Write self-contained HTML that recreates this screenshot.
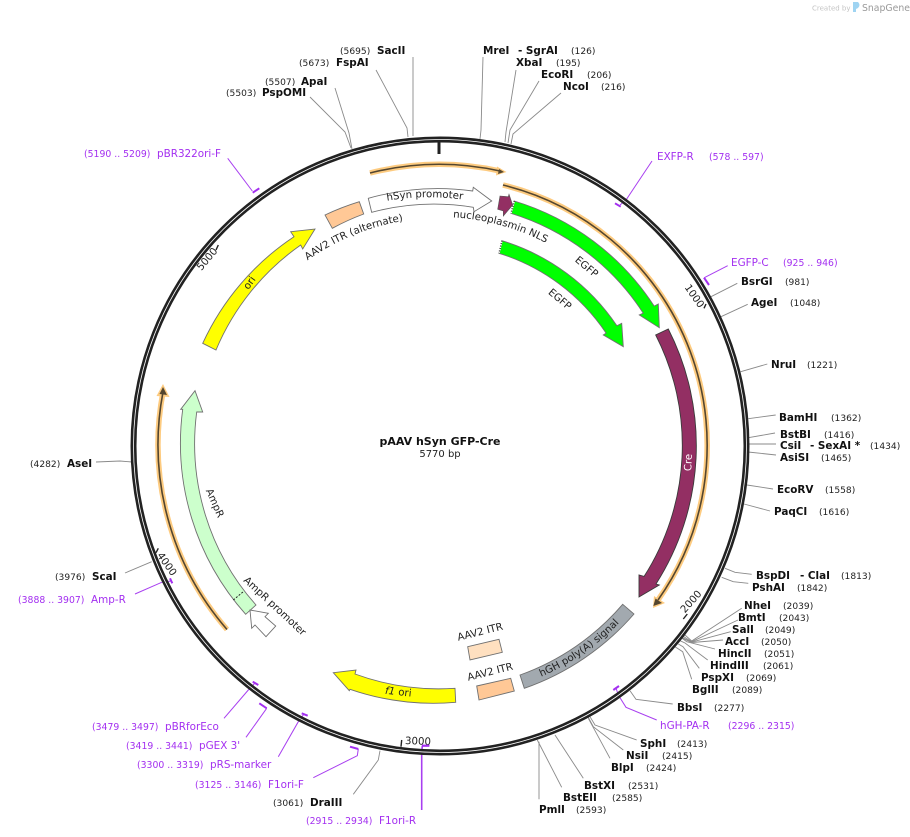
<!DOCTYPE html>
<html><head><meta charset="utf-8"><style>
html,body{margin:0;padding:0;background:#fff;width:910px;height:837px;overflow:hidden}
svg{display:block;font-family:"DejaVu Sans","Liberation Sans",sans-serif}
.b{font-size:10.4px;font-weight:bold;fill:#111}
.n{font-size:9.1px;fill:#222}
.p{font-size:10.4px;fill:#a32ff0}
.q{font-size:9.3px;fill:#a32ff0}
.t{font-size:10.2px;fill:#222}
.l{fill:none;stroke:#8a8a8a;stroke-width:.9}
.v{fill:none;stroke:#a83ff0;stroke-width:1}
.k{fill:none;stroke:#a32ff0;stroke-width:2}
.h{fill:none;stroke:#fdcb80;stroke-width:5.5}
.d{fill:none;stroke:#54462f;stroke-width:1.6}
.f{stroke:#707070;stroke-width:.9}
</style></head><body>
<svg width="910" height="837" viewBox="0 0 910 837" xmlns="http://www.w3.org/2000/svg">
<defs>
<path id="pn" d="M401.8,220.2 A229 229 0 0 1 588.4,271.6"/>
<path id="pi" d="M265.3,299.4 A228 228 0 0 1 460.7,218.9"/>
<path id="pg" d="M462,697 A252 252 0 0 0 666.5,556.4"/>
<path id="ph" d="M360,207 A246 246 0 0 1 490,205"/>
</defs>

<!-- logo -->
<text x="812" y="10.5" font-size="7" fill="#c4c4c4">Created by</text>
<path d="M853,2 h5 q3,3 0,6 l-2,1 v3 h-3 z" fill="#9fd4f2"/>
<text x="862" y="11" font-size="9.3" fill="#9a9a9a">SnapGene</text>

<!-- leaders -->
<g class="l">
<path d="M413,57 V136"/>
<path d="M376,70 L407,128 L408,137"/>
<path d="M335,88 L349,133 L352,149"/>
<path d="M310,97 L345,132 L351,148"/>
<path d="M483,57 L481,130 L480,139"/>
<path d="M516,70 L506,132 L505,142"/>
<path d="M539,81 L510,130 L508,143"/>
<path d="M561,93 L513,134 L511,144"/>
<path d="M737.3,283.3 L711,296.7"/>
<path d="M747.7,304.3 L721,316.7"/>
<path d="M767.3,364 L740.7,371.7"/>
<path d="M775.7,415 L748.3,418.7"/>
<path d="M775,433 L748.3,437.7"/>
<path d="M776,444 H748"/>
<path d="M776,455 L748,452"/>
<path d="M773,489 L747,485"/>
<path d="M770,511 L744,504"/>
<path d="M751.7,574.3 L735,572.3 L725,568.3"/>
<path d="M748.3,583.3 L733.3,581.7 L721.7,577.3"/>
<path d="M741.7,608.3 L691.7,641 L685,635"/>
<path d="M738,620 L691.7,641.7 L683.5,636.5"/>
<path d="M730.7,631.7 L692,642 L682,637.5"/>
<path d="M723,640 L692,642.5 L681.7,638"/>
<path d="M715,649 L686.7,641.7 L681.7,638"/>
<path d="M707.7,660 L685,643 L680,640.7"/>
<path d="M699.3,668.3 L683,646.7 L678.3,644"/>
<path d="M691.7,679.3 L682.7,651.7 L675,646.7"/>
<path d="M672.7,704 L636,699.3 L630,690.7"/>
<path d="M636.7,740 L595,725 L590,716.7"/>
<path d="M623.3,750 L593.3,726.7 L588.3,717.3"/>
<path d="M610,758.3 L588.3,718.3"/>
<path d="M583.3,778.3 L555,735"/>
<path d="M561.7,787.3 L537.3,740"/>
<path d="M539,799.3 V741.7"/>
<path d="M353.3,794.3 L378.3,760 L380,750.7"/>
<path d="M125,573 L151.7,561.7"/>
<path d="M96,462 L120,461 L132,462"/>
</g>

<!-- primer leaders -->
<g class="v">
<path d="M652,161 L626,200 L620,205"/>
<path d="M727.7,265.7 L704.3,277.7"/>
<path d="M656.7,720 L626,707.3 L618.3,695 L616,688"/>
<path d="M421.7,810 V753.3 L422.3,745.7" stroke-width="1.6"/>
<path d="M313.3,777.7 L357.3,755.7 L358.3,749"/>
<path d="M278.3,756.7 L298.3,721.7 L304,714"/>
<path d="M246,737.3 L266.7,708.3"/>
<path d="M224,718.3 L248.3,690 L255,683"/>
<path d="M135,594 L161.7,582.3 L171,581"/>
<path d="M227.7,158.3 L252.3,191"/>
</g>
<g class="k">
<path d="M615,203.3 L620.7,206.7"/>
<path d="M704,277.7 L709,285"/>
<path d="M613.3,690 L619,686"/>
<path d="M422,745.7 H429.3"/>
<path d="M350,746.7 L358.3,749"/>
<path d="M301.7,713.3 L307.7,715.7"/>
<path d="M259.3,703.3 L266.7,708.3"/>
<path d="M252.7,681.7 L258.3,685"/>
<path d="M170,578.3 L172.3,583.3"/>
<path d="M252.7,192.7 L259.3,188.3"/>
</g>

<!-- main ring -->
<circle cx="440" cy="446" r="306.5" fill="none" stroke="#222" stroke-width="6"/>
<circle cx="440" cy="446" r="306.5" fill="none" stroke="#fff" stroke-width=".8"/>

<!-- ticks -->
<g fill="none" stroke="#222">
<path d="M439,141 V154" stroke-width="3"/>
<path d="M706,304 L704,308.3" stroke-width="1.4"/>
<path d="M687.3,614 L683.3,619" stroke-width="1.4"/>
<path d="M401.7,740 L401,746.7" stroke-width="1.4"/>
<path d="M158.3,548.3 L156,552.7" stroke-width="1.4"/>
<path d="M218.3,245 L216,250" stroke-width="1.4"/>
</g>
<g class="t">
<text transform="translate(694.5,296) rotate(55)" text-anchor="middle" y="3.5">1000</text>
<text transform="translate(691,601.5) rotate(-48)" text-anchor="middle" y="3.5">2000</text>
<text transform="translate(418,741) rotate(2)" text-anchor="middle" y="3.5">3000</text>
<text transform="translate(167,564) rotate(55)" text-anchor="middle" y="3.5">4000</text>
<text transform="translate(207,259) rotate(-50)" text-anchor="middle" y="3.5">5000</text>
</g>
<path d="M422,745.7 H429.3" class="k"/>

<!-- orange tracks -->
<g>
<path class="h" d="M370,173 A281 281 0 0 1 500,171"/>
<path d="M497,166.5 L506.5,172 L496,175.5 Z" fill="#fdcb80"/>
<path class="d" d="M370,173 A281 281 0 0 1 500,171"/>
<path d="M499,169 L504,172 L498,174 Z" fill="#54462f"/>
<path class="h" d="M503,185 A268 268 0 0 1 658,600"/>
<path d="M653,608 L654,596 L665,603 Z" fill="#fdcb80"/>
<path class="d" d="M503,185 A268 268 0 0 1 658,600"/>
<path d="M653.3,606 L655.5,598.5 L662,603 Z" fill="#54462f"/>
<path class="h" d="M227,629.5 A282 282 0 0 1 163,392"/>
<path d="M163,384 L156.5,396 L169.5,397 Z" fill="#fdcb80"/>
<path class="d" d="M227,629.5 A282 282 0 0 1 163,392"/>
<path d="M163,387 L159.5,394 L167,395 Z" fill="#54462f"/>
</g>

<!-- features -->
<path class="f" fill="#00ff00" d="M514.3,201 A256 256 0 0 1 654.2,306.1 L658.3,304 L659.3,327.7 L639.3,315 L643.3,313.2 A243 243 0 0 0 511,213.3 Z"/>
<path d="M514.3,201 L511,213.3" stroke="#fff" stroke-width="1.5" fill="none"/>
<path d="M514.3,201 L511,213.3" stroke="#333" stroke-width="1.5" stroke-dasharray="1,1.5" fill="none"/>
<path class="f" fill="#00ff00" d="M502,240.7 A214 214 0 0 1 616.9,325.8 L621.7,323.3 L623.3,346.7 L603.3,335 L606.1,333.1 A201 201 0 0 0 499,253.3 Z"/>
<path d="M502,240.7 L499,253.3" stroke="#fff" stroke-width="1.5" fill="none"/>
<path d="M502,240.7 L499,253.3" stroke="#333" stroke-width="1.5" stroke-dasharray="1,1.5" fill="none"/>
<path d="M500,196 L508.3,196.7 L509,194.3 L512.7,205 L503.3,216 L503.3,211 L497.7,209.3 Z" fill="#932f63" stroke="#555" stroke-width=".6"/>
<path d="M668.3,329 A257 257 0 0 1 656,584 L659.3,585 L639,597 L639,575 L644.1,576.4 A243 243 0 0 0 655.7,335 Z" fill="#932f63" stroke="#3a3a3a" stroke-width=".9"/>
<path class="f" fill="#a2a9af" d="M622.7,604.3 L634,614 A257 257 0 0 1 524.3,688.3 L520,675 A243 243 0 0 0 622.7,604.3 Z"/>
<path class="f" fill="#ffc896" d="M476.7,686 L510.7,678.3 L514.3,691 L479,700 Z"/>
<path class="f" fill="#ffe0c0" d="M467.7,646.7 L499,639.3 L502.3,652.3 L470,660 Z"/>
<path class="f" fill="#ffff00" d="M455,688.3 L455.7,702.3 A257 257 0 0 1 350,689.3 L349.3,690.7 L333.3,672.7 L356,670 L355,674 A243 243 0 0 0 455,688.3 Z"/>
<path class="f" fill="#ffff00" d="M202.7,343.3 L216,350 A243 243 0 0 1 300.7,245 L302.7,249 L315,229 L290.7,231.7 L294,236.7 A257 257 0 0 0 202.7,343.3 Z"/>
<path class="f" fill="#ffc896" d="M325,215 A257 257 0 0 1 359.3,201.7 L363.7,214 A243 243 0 0 0 332.3,228.3 Z"/>
<path class="f" fill="#fff" d="M368.3,198.3 A257 257 0 0 1 472.7,191 L473.3,187.3 L491.7,201 L474,211.7 L473.3,207.3 A243 243 0 0 0 371.7,212.3 Z"/>
<path class="f" fill="#ccffcc" d="M245.7,614.3 A257 257 0 0 1 182.7,409.3 L180.7,409.3 L195,390.7 L202.7,412 L196.7,412 A243 243 0 0 0 256,605 Z"/>
<path d="M233.3,600 L243.3,591.7" stroke="#222" stroke-width="1" stroke-dasharray="2,1.5" fill="none"/>
<path class="f" fill="#fff" d="M250,610 L268.3,613.3 L265,616.7 L275.7,626 L266,636.7 L255,625 L251.7,628.3 Z"/>

<!-- feature labels -->
<g class="t">
<text text-anchor="middle"><textPath href="#ph" startOffset="50%">hSyn promoter</textPath></text>
<text text-anchor="middle"><textPath href="#pn" startOffset="50%">nucleoplasmin NLS</textPath></text>
<text text-anchor="middle"><textPath href="#pi" startOffset="50%">AAV2 ITR (alternate)</textPath></text>
<text text-anchor="middle"><textPath href="#pg" startOffset="50%">hGH poly(A) signal</textPath></text>
<text transform="translate(586.7,266.7) rotate(40)" text-anchor="middle" y="3.5">EGFP</text>
<text transform="translate(560,299) rotate(40)" text-anchor="middle" y="3.5">EGFP</text>
<text transform="translate(688,462.5) rotate(-88)" text-anchor="middle" y="3.5" style="fill:#fff">Cre</text>
<text transform="translate(215,503) rotate(66)" text-anchor="middle" y="3.5">AmpR</text>
<text transform="translate(275,606) rotate(43)" text-anchor="middle" y="3.5">AmpR promoter</text>
<text transform="translate(490,671.7) rotate(-14)" text-anchor="middle" y="3.5">AAV2 ITR</text>
<text transform="translate(480,631.7) rotate(-14)" text-anchor="middle" y="3.5">AAV2 ITR</text>
<text transform="translate(398.3,691.7) rotate(6)" text-anchor="middle" y="3.5"><tspan font-style="italic">f1</tspan> ori</text>
<text transform="translate(249.3,282.7) rotate(-55)" text-anchor="middle" y="3.5">ori</text>
</g>

<!-- center -->
<text x="440" y="445" text-anchor="middle" font-size="11" font-weight="bold" fill="#111">pAAV hSyn GFP-Cre</text>
<text x="440" y="457" text-anchor="middle" font-size="10" fill="#222">5770 bp</text>

<!-- site labels -->
<text class="n" x="340" y="54">(5695)</text><text class="b" x="377" y="54">SacII</text>
<text class="n" x="299" y="66">(5673)</text><text class="b" x="336" y="66">FspAI</text>
<text class="n" x="265" y="85">(5507)</text><text class="b" x="301" y="85">ApaI</text>
<text class="n" x="226" y="96">(5503)</text><text class="b" x="262" y="96">PspOMI</text>
<text class="b" x="483" y="54">MreI</text><text class="b" x="518" y="54">- SgrAI</text><text class="n" x="571" y="54">(126)</text>
<text class="b" x="516" y="66">XbaI</text><text class="n" x="556" y="66">(195)</text>
<text class="b" x="541" y="78">EcoRI</text><text class="n" x="587" y="78">(206)</text>
<text class="b" x="563" y="90">NcoI</text><text class="n" x="601" y="90">(216)</text>
<text class="p" x="657" y="160">EXFP-R</text><text class="q" x="709" y="160">(578 .. 597)</text>
<text class="p" x="731" y="266">EGFP-C</text><text class="q" x="783" y="266">(925 .. 946)</text>
<text class="b" x="741" y="285">BsrGI</text><text class="n" x="785" y="285">(981)</text>
<text class="b" x="751" y="306">AgeI</text><text class="n" x="790" y="306">(1048)</text>
<text class="b" x="771" y="368">NruI</text><text class="n" x="807" y="368">(1221)</text>
<text class="b" x="779" y="421">BamHI</text><text class="n" x="831" y="421">(1362)</text>
<text class="b" x="780" y="438">BstBI</text><text class="n" x="824" y="438">(1416)</text>
<text class="b" x="780" y="449">CsiI</text><text class="b" x="810" y="449">- SexAI *</text><text class="n" x="870" y="449">(1434)</text>
<text class="b" x="780" y="461">AsiSI</text><text class="n" x="821" y="461">(1465)</text>
<text class="b" x="777" y="493">EcoRV</text><text class="n" x="825" y="493">(1558)</text>
<text class="b" x="774" y="515">PaqCI</text><text class="n" x="819" y="515">(1616)</text>
<text class="b" x="756" y="579">BspDI</text><text class="b" x="800" y="579">- ClaI</text><text class="n" x="841" y="579">(1813)</text>
<text class="b" x="752" y="591">PshAI</text><text class="n" x="797" y="591">(1842)</text>
<text class="b" x="744" y="609">NheI</text><text class="n" x="783" y="609">(2039)</text>
<text class="b" x="738" y="621">BmtI</text><text class="n" x="779" y="621">(2043)</text>
<text class="b" x="732" y="633">SalI</text><text class="n" x="765" y="633">(2049)</text>
<text class="b" x="725" y="645">AccI</text><text class="n" x="761" y="645">(2050)</text>
<text class="b" x="718" y="657">HincII</text><text class="n" x="764" y="657">(2051)</text>
<text class="b" x="710" y="669">HindIII</text><text class="n" x="763" y="669">(2061)</text>
<text class="b" x="701" y="681">PspXI</text><text class="n" x="746" y="681">(2069)</text>
<text class="b" x="692" y="693">BglII</text><text class="n" x="732" y="693">(2089)</text>
<text class="b" x="677" y="711">BbsI</text><text class="n" x="714" y="711">(2277)</text>
<text class="p" x="660" y="729">hGH-PA-R</text><text class="q" x="728" y="729">(2296 .. 2315)</text>
<text class="b" x="640" y="747">SphI</text><text class="n" x="677" y="747">(2413)</text>
<text class="b" x="626" y="759">NsiI</text><text class="n" x="662" y="759">(2415)</text>
<text class="b" x="611" y="771">BlpI</text><text class="n" x="646" y="771">(2424)</text>
<text class="b" x="584" y="789">BstXI</text><text class="n" x="628" y="789">(2531)</text>
<text class="b" x="563" y="801">BstEII</text><text class="n" x="612" y="801">(2585)</text>
<text class="b" x="539" y="813">PmlI</text><text class="n" x="576" y="813">(2593)</text>
<text class="q" x="306" y="824">(2915 .. 2934)</text><text class="p" x="379" y="824">F1ori-R</text>
<text class="n" x="273" y="806">(3061)</text><text class="b" x="310" y="806">DraIII</text>
<text class="q" x="195" y="788">(3125 .. 3146)</text><text class="p" x="268" y="788">F1ori-F</text>
<text class="q" x="137" y="768">(3300 .. 3319)</text><text class="p" x="210" y="768">pRS-marker</text>
<text class="q" x="126" y="749">(3419 .. 3441)</text><text class="p" x="199" y="749">pGEX 3'</text>
<text class="q" x="92" y="730">(3479 .. 3497)</text><text class="p" x="165" y="730">pBRforEco</text>
<text class="q" x="18" y="603">(3888 .. 3907)</text><text class="p" x="91" y="603">Amp-R</text>
<text class="n" x="55" y="580">(3976)</text><text class="b" x="92" y="580">ScaI</text>
<text class="n" x="30" y="467">(4282)</text><text class="b" x="67" y="467">AseI</text>
<text class="q" x="84" y="157">(5190 .. 5209)</text><text class="p" x="157" y="157">pBR322ori-F</text>
</svg>
</body></html>
